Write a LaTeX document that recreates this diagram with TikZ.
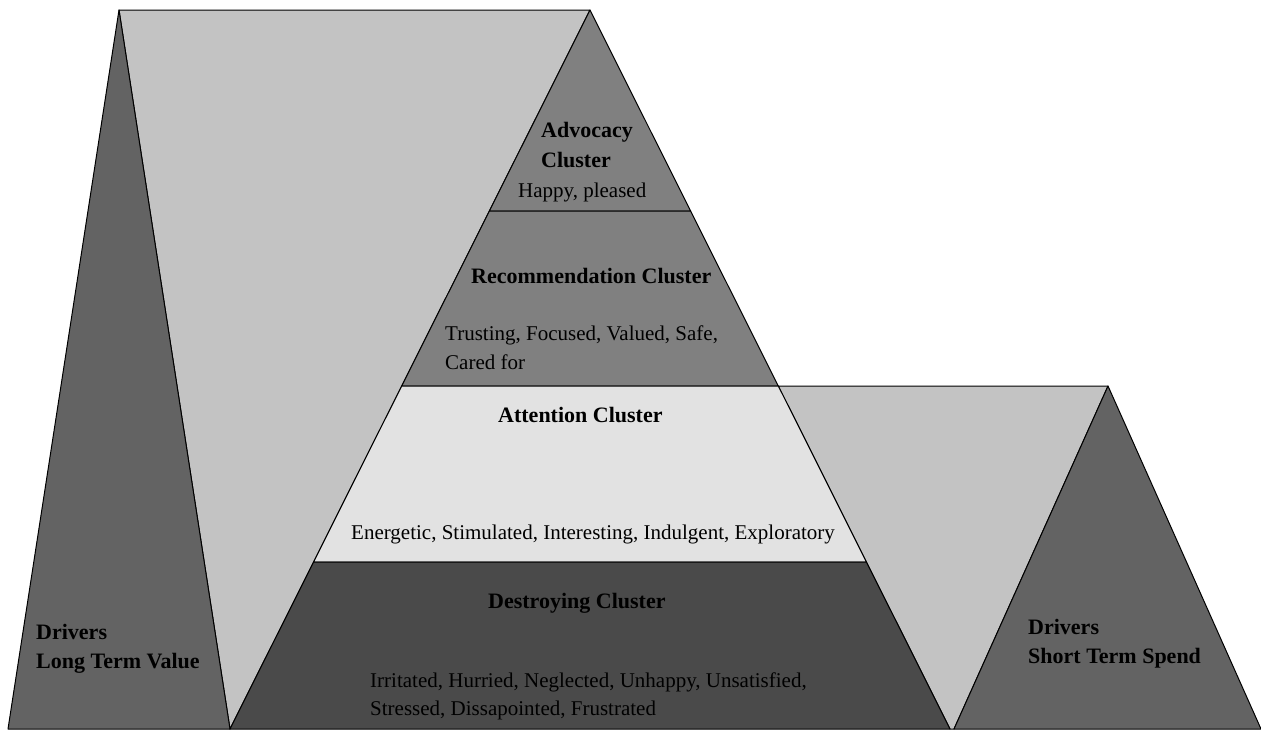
\documentclass[tikz,border=0pt]{standalone}
\usepackage{fontspec}
\setmainfont{Liberation Serif}
\definecolor{palefill}{RGB}{195,195,195}
\definecolor{driverfill}{RGB}{99,99,99}
\definecolor{upperfill}{RGB}{128,128,128}
\definecolor{attnfill}{RGB}{226,226,226}
\definecolor{destfill}{RGB}{74,74,74}
\begin{document}
\begin{tikzpicture}[x=1pt,y=-1pt,
  facet/.style={draw=black,line width=1pt,line join=round},
  head/.style={font=\fontsize{22}{29}\selectfont\bfseries,inner sep=0pt,anchor=base west,align=left},
  body/.style={font=\fontsize{21}{29}\selectfont,inner sep=0pt,anchor=base west,align=left}]
\useasboundingbox (0,0) rectangle (1261,729);
\clip (0,0) rectangle (1261,729);

% pyramid corners, level by level
\coordinate (apex) at (590,10);
\coordinate (L1) at (489.4,211); \coordinate (R1) at (690.6,211);
\coordinate (L2) at (401.7,386); \coordinate (R2) at (778.3,386);
\coordinate (L3) at (313.6,562); \coordinate (R3) at (866.4,562);
\coordinate (L4) at (230,729);   \coordinate (R4) at (950,729);

% driver peaks and the pale wedges between them
\coordinate (ltop) at (119,10);
\coordinate (lbl) at (8,729);
\coordinate (rtop) at (1108,386);
\coordinate (rbl) at (954,729);
\coordinate (rbr) at (1261,729);

\fill[palefill,facet] (ltop) -- (apex) -- (L4) -- cycle;
\fill[palefill,facet] (R2) -- (rtop) -- (rbl) -- (R4) -- cycle;
\fill[driverfill,facet] (ltop) -- (lbl) -- (L4) -- cycle;
\fill[driverfill,facet] (rtop) -- (rbl) -- (rbr) -- cycle;

% pyramid levels
\fill[upperfill,facet] (apex) -- (R1) -- (L1) -- cycle;
\fill[upperfill,facet] (L1) -- (R1) -- (R2) -- (L2) -- cycle;
\fill[attnfill,facet] (L2) -- (R2) -- (R3) -- (L3) -- cycle;
\fill[destfill,facet] (L3) -- (R3) -- (R4) -- (L4) -- cycle;

% labels (multi-line nodes sit on the baseline of their last line)
\node[head] (advh) at (541,167) {Advocacy\\[1pt]Cluster};
\node[body] (advb) at (518,197) {Happy, pleased};
\node[head] (rech) at (471,283) {Recommendation Cluster};
\node[body] (recb) at (445,369) {Trusting, Focused, Valued, Safe,\\Cared for};
\node[head] (atth) at (498,422) {Attention Cluster};
\node[body] (attb) at (351,539) {Energetic, Stimulated, Interesting, Indulgent, Exploratory};
\node[head] (desh) at (488,608) {Destroying Cluster};
\node[body] (desb) at (370,715) {Irritated, Hurried, Neglected, Unhappy, Unsatisfied,\\[-1pt]Stressed, Dissapointed, Frustrated};
\node[head] (ltv) at (36,668) {Drivers\\Long Term Value};
\node[head] (sts) at (1028,663) {Drivers\\Short Term Spend};
\end{tikzpicture}
\end{document}
